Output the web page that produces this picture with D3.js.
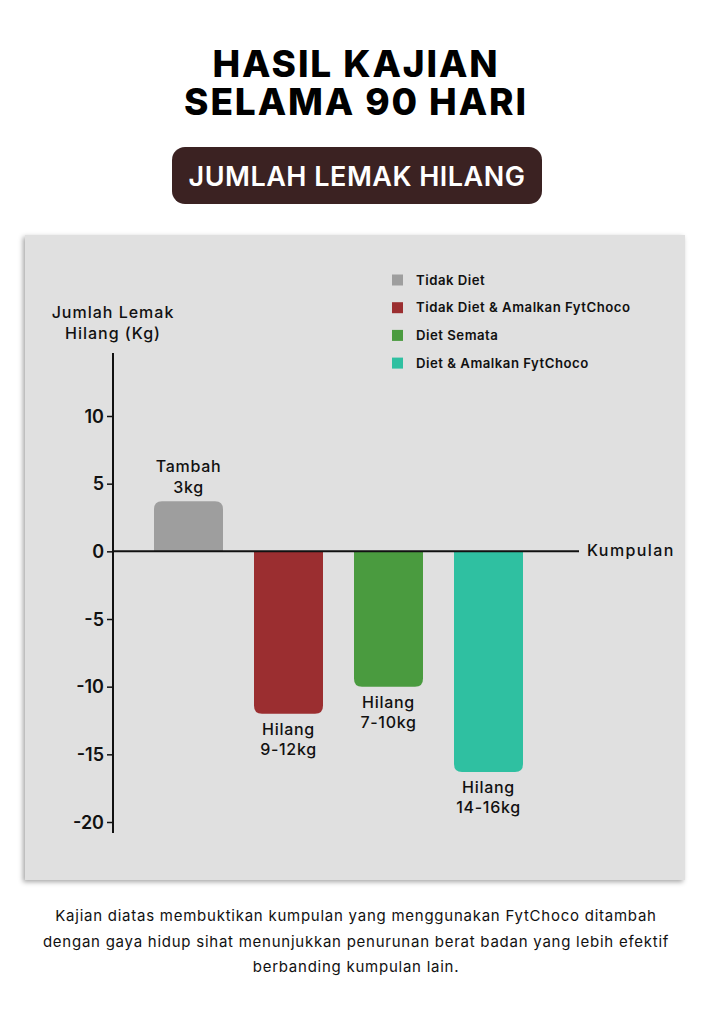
<!DOCTYPE html>
<html><head><meta charset="utf-8">
<script src="https://cdn.jsdelivr.net/npm/d3@7"></script>
<style>
html,body{margin:0;padding:0;background:#fff;}
svg{display:block;font-family:Inter,"Open Sans",sans-serif;}
</style></head>
<body>
<svg id="c" width="711" height="1024"></svg>
<script>
const categories = ["Tidak Diet", "Tidak Diet & Amalkan FytChoco", "Diet Semata", "Diet & Amalkan FytChoco"];
const values = [3.7, -12.0, -10.0, -16.3];
const colors = ["#9e9e9e", "#9b2e30", "#4a9b3f", "#2fc0a1"];
const barLabels = [["Tambah", "3kg"], ["Hilang", "9-12kg"], ["Hilang", "7-10kg"], ["Hilang", "14-16kg"]];
const yTicks = [10, 5, 0, -5, -10, -15, -20];
const titleLines = ["HASIL KAJIAN", "SELAMA 90 HARI"];
const subtitle = "JUMLAH LEMAK HILANG";
const yTitle = ["Jumlah Lemak", "Hilang (Kg)"];
const xTitle = "Kumpulan";
const footer = ["Kajian diatas membuktikan kumpulan yang menggunakan FytChoco ditambah",
  "dengan gaya hidup sihat menunjukkan penurunan berat badan yang lebih efektif",
  "berbanding kumpulan lain."];

const svg = d3.select("#c");
const defs = svg.append("defs");
const f = defs.append("filter").attr("id","sh").attr("x","-5%").attr("y","-5%").attr("width","110%").attr("height","110%");
f.append("feDropShadow").attr("dx",-2).attr("dy",2).attr("stdDeviation",2.5).attr("flood-color","#000").attr("flood-opacity",0.35);

// Title (one text block, two lines)
const tt = svg.append("text").attr("text-anchor","middle").attr("font-size",37).attr("font-weight",800)
  .attr("fill","#000").attr("letter-spacing","1.9");
titleLines.forEach((d,i)=>tt.append("tspan").attr("x",356).attr("y",77+i*38).text(d));

// Subtitle pill
svg.append("rect").attr("x",172).attr("y",147).attr("width",370).attr("height",57).attr("rx",13).attr("fill","#3b2222");
svg.append("text").attr("x",357).attr("y",186).attr("text-anchor","middle").attr("letter-spacing","0.5")
  .attr("font-size",27).attr("font-weight",600).attr("fill","#fff").text(subtitle);

// Panel
svg.append("rect").attr("x",25).attr("y",235).attr("width",660).attr("height",645).attr("fill","#e0e0e0").attr("filter","url(#sh)");

// Scales
const y = d3.scaleLinear().domain([-20, 10]).range([822, 416]);
const x = d3.scaleBand().domain(categories).range([138, 539]).paddingInner(0.31).paddingOuter(0.16);
const axisX = 113;

// Y axis
const yAxis = d3.axisLeft(y).tickValues(yTicks).tickSize(6).tickPadding(3).tickFormat(d=>d<0?"-"+Math.abs(d):d);
const gy = svg.append("g").attr("transform",`translate(${axisX},0)`).call(yAxis);
gy.select(".domain").remove();
gy.selectAll(".tick line").attr("stroke","#111").attr("stroke-width",1.5);
gy.selectAll(".tick text").attr("font-size",18).attr("font-weight",600).attr("fill","#111").attr("font-family","Inter,sans-serif").attr("dy","0.35em");
svg.append("line").attr("x1",axisX).attr("x2",axisX).attr("y1",353).attr("y2",833).attr("stroke","#111").attr("stroke-width",2);

// Bars with rounded outer end
const r = 8;
function barPath(d, i){
  const x0 = x(categories[i]), w = x.bandwidth();
  const y0 = y(0), y1 = y(d);
  if (d >= 0) {
    return `M${x0},${y0}V${y1+r}Q${x0},${y1} ${x0+r},${y1}H${x0+w-r}Q${x0+w},${y1} ${x0+w},${y1+r}V${y0}Z`;
  } else {
    return `M${x0},${y0}V${y1-r}Q${x0},${y1} ${x0+r},${y1}H${x0+w-r}Q${x0+w},${y1} ${x0+w},${y1-r}V${y0}Z`;
  }
}
svg.selectAll("path.bar").data(values).join("path").attr("class","bar")
  .attr("d",barPath).attr("fill",(d,i)=>colors[i]);

// X axis line
svg.append("line").attr("x1",axisX).attr("x2",579).attr("y1",y(0)).attr("y2",y(0)).attr("stroke","#111").attr("stroke-width",2);
svg.append("text").attr("x",587).attr("y",y(0)+5).attr("font-size",16).attr("font-weight",500).attr("letter-spacing","1.4").attr("fill","#111").text(xTitle);

// Bar labels
values.forEach((v,i)=>{
  const cx = x(categories[i]) + x.bandwidth()/2;
  const t = svg.append("text").attr("text-anchor","middle").attr("font-size",16).attr("font-weight",500)
    .attr("letter-spacing","0.7").attr("fill","#111");
  const base = v >= 0 ? y(v) - 29 : y(v) + 21;
  barLabels[i].forEach((s,j)=>t.append("tspan").attr("x",cx).attr("y",base + j*20.5).text(s));
});

// Y title
svg.selectAll("text.yt").data(yTitle).join("text").attr("x",113).attr("y",(d,i)=>318+i*21)
  .attr("text-anchor","middle").attr("font-size",16).attr("font-weight",500).attr("letter-spacing","1")
  .attr("fill","#111").text(d=>d);

// Legend
const lg = svg.append("g");
categories.forEach((c,i)=>{
  const cy = 280 + i*27.7;
  lg.append("rect").attr("x",392).attr("y",cy-5.5).attr("width",11).attr("height",11).attr("fill",colors[i]);
  lg.append("text").attr("x",416).attr("y",cy+4.5).attr("font-size",13.2).attr("font-weight",600)
    .attr("letter-spacing","0.5").attr("fill","#111").text(c);
});

// Footer
svg.selectAll("text.ft").data(footer).join("text").attr("x",356).attr("y",(d,i)=>921+i*25.5)
  .attr("text-anchor","middle").attr("font-size",15).attr("font-weight",400).attr("letter-spacing","0.75")
  .attr("fill","#111").text(d=>d);
</script>
</body></html>
